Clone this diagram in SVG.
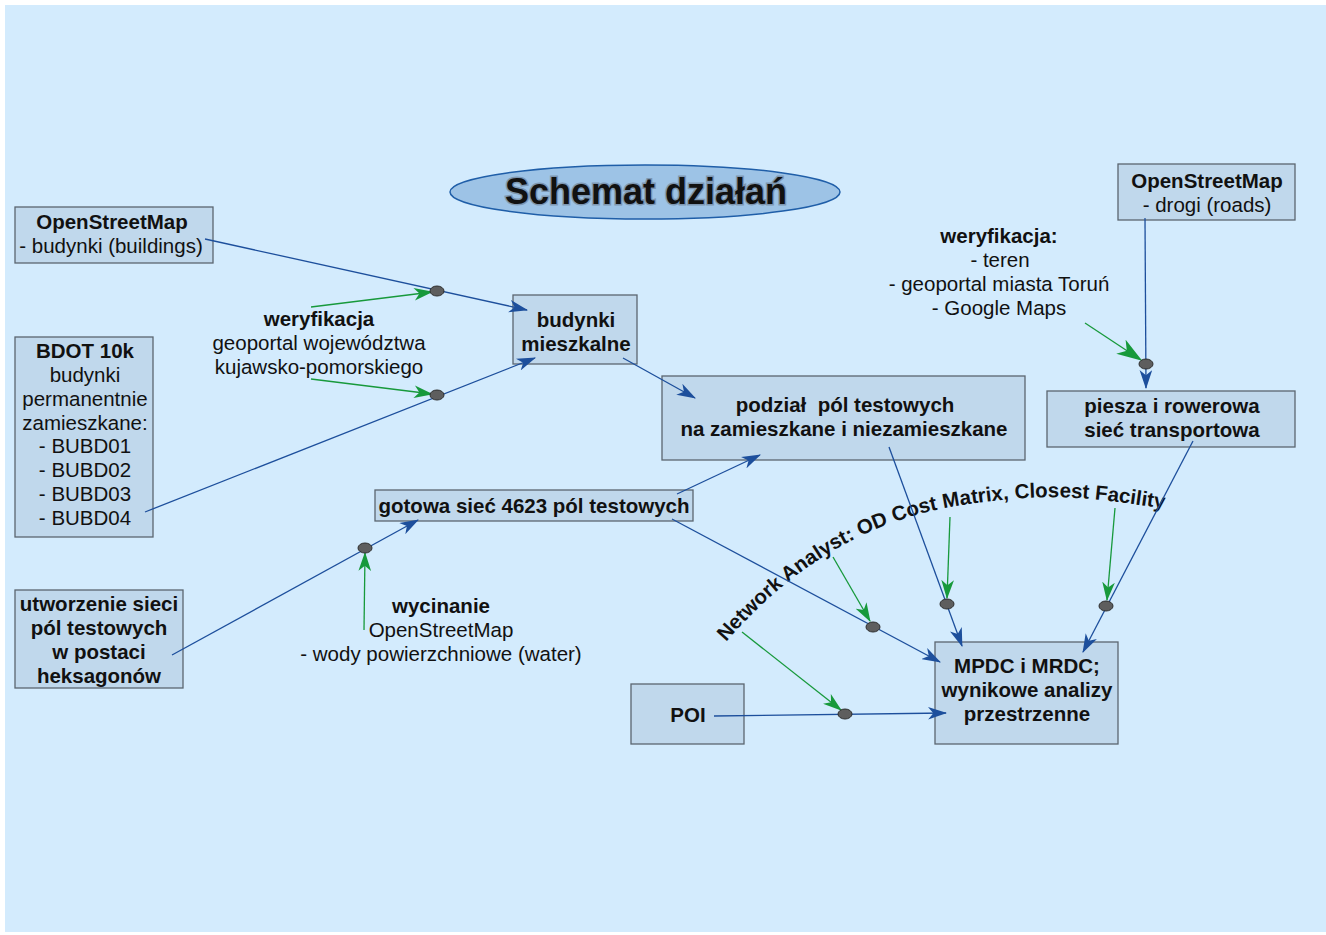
<svg xmlns="http://www.w3.org/2000/svg" width="1326" height="935" viewBox="0 0 1326 935">
<style>
  .node rect { fill: #c0d8ec; stroke: #5b6670; stroke-width: 1.3; }
  text { font-family: "Liberation Sans", Arial, sans-serif; font-size: 20.5px; fill: #111; text-anchor: middle; }
  .b { font-weight: bold; }
  .blue { stroke: #1d4f9c; stroke-width: 1.3; fill: none; }
  .green { stroke: #17993b; stroke-width: 1.3; fill: none; }
  .dot { fill: #5e5e5e; stroke: #2f2f2f; stroke-width: 1; }
</style>
<defs>
  <marker id="ab" viewBox="0 0 18 12" refX="17" refY="6" markerWidth="19" markerHeight="13" orient="auto" markerUnits="userSpaceOnUse">
    <path d="M0,0 L18,6 L0,12 L5,6 z" fill="#1d4f9c"/>
  </marker>
  <marker id="ag" viewBox="0 0 18 12" refX="17" refY="6" markerWidth="19" markerHeight="13" orient="auto" markerUnits="userSpaceOnUse">
    <path d="M0,0 L18,6 L0,12 L5,6 z" fill="#17993b"/>
  </marker>
  <marker id="agb" viewBox="0 0 18 12" refX="17" refY="6" markerWidth="26" markerHeight="17" orient="auto" markerUnits="userSpaceOnUse">
    <path d="M0,0 L18,6 L0,12 L5,6 z" fill="#17993b"/>
  </marker>
</defs>

<rect x="0" y="0" width="1326" height="935" fill="#ffffff"/>
<rect x="5" y="5" width="1321" height="927" fill="#d3ebfd"/>

<g id="title">
  <ellipse cx="645" cy="192" rx="195" ry="27" fill="#9dc3e6" stroke="#1f5ea8" stroke-width="1.5"/>
  <text x="646" y="204" class="b" style="font-size:36px; stroke:#7d97b2; stroke-width:3; paint-order:stroke;">Schemat działań</text>
</g>

<g id="osm-buildings" class="node">
  <rect x="15" y="207" width="198" height="56"/>
  <text x="112" y="229" class="b">OpenStreetMap</text>
  <text x="111" y="253">- budynki (buildings)</text>
</g>

<g id="bdot" class="node">
  <rect x="15" y="337" width="138" height="200"/>
  <text x="85" y="358" class="b">BDOT 10k</text>
  <text x="85" y="382">budynki</text>
  <text x="85" y="406">permanentnie</text>
  <text x="85" y="430">zamieszkane:</text>
  <text x="85" y="453">- BUBD01</text>
  <text x="85" y="477">- BUBD02</text>
  <text x="85" y="501">- BUBD03</text>
  <text x="85" y="525">- BUBD04</text>
</g>

<g id="utworzenie" class="node">
  <rect x="15" y="590" width="168" height="98"/>
  <text x="99" y="611" class="b">utworzenie sieci</text>
  <text x="99" y="635" class="b">pól testowych</text>
  <text x="99" y="659" class="b">w postaci</text>
  <text x="99" y="683" class="b">heksagonów</text>
</g>

<g id="budynki-mieszkalne" class="node">
  <rect x="513" y="295" width="124" height="69"/>
  <text x="576" y="327" class="b">budynki</text>
  <text x="576" y="351" class="b">mieszkalne</text>
</g>

<g id="podzial" class="node">
  <rect x="662" y="376" width="363" height="84"/>
  <text x="845" y="412" class="b" style="white-space:pre">podział  pól testowych</text>
  <text x="844" y="436" class="b">na zamieszkane i niezamieszkane</text>
</g>

<g id="gotowa" class="node">
  <rect x="375" y="490" width="318" height="31"/>
  <text x="534" y="513" class="b">gotowa sieć 4623 pól testowych</text>
</g>

<g id="osm-roads" class="node">
  <rect x="1118" y="164" width="177" height="56"/>
  <text x="1207" y="188" class="b">OpenStreetMap</text>
  <text x="1207" y="212">- drogi (roads)</text>
</g>

<g id="piesza" class="node">
  <rect x="1047" y="391" width="248" height="56"/>
  <text x="1172" y="413" class="b">piesza i rowerowa</text>
  <text x="1172" y="437" class="b">sieć transportowa</text>
</g>

<g id="mpdc" class="node">
  <rect x="935" y="642" width="183" height="102"/>
  <text x="1027" y="673" class="b">MPDC i MRDC;</text>
  <text x="1027" y="697" class="b">wynikowe analizy</text>
  <text x="1027" y="721" class="b">przestrzenne</text>
</g>

<g id="poi" class="node">
  <rect x="631" y="684" width="113" height="60"/>
  <text x="688" y="722" class="b">POI</text>
</g>

<g id="label-weryfikacja-1">
  <text x="319" y="326" class="b">weryfikacja</text>
  <text x="319" y="350">geoportal województwa</text>
  <text x="319" y="374">kujawsko-pomorskiego</text>
</g>

<g id="label-weryfikacja-2">
  <text x="999" y="243" class="b">weryfikacja:</text>
  <text x="1000" y="267">- teren</text>
  <text x="999" y="291">- geoportal miasta Toruń</text>
  <text x="999" y="315">- Google Maps</text>
</g>

<g id="label-wycinanie">
  <text x="441" y="613" class="b">wycinanie</text>
  <text x="441" y="637">OpenStreetMap</text>
  <text x="441" y="661">- wody powierzchniowe (water)</text>
</g>

<g id="label-network">
  <path id="arc" d="M726 642 C786 573, 862 520, 962 505 S1100 500, 1168 509" fill="none"/>
  <text class="b" style="text-anchor:start; font-size:20.5px;"><textPath href="#arc">Network Analyst: OD Cost Matrix, Closest Facility</textPath></text>
</g>

<g id="connectors">
  <path class="blue" d="M205 239 L527 310" marker-end="url(#ab)"/>
  <path class="blue" d="M145 512 L535 358" marker-end="url(#ab)"/>
  <path class="green" d="M311 307 L432 292" marker-end="url(#ag)"/>
  <path class="green" d="M311 379 L432 394" marker-end="url(#ag)"/>
  <path class="blue" d="M623 358 L695 398" marker-end="url(#ab)"/>
  <path class="blue" d="M172 655 L418 520" marker-end="url(#ab)"/>
  <path class="green" d="M364 630 L365 553" marker-end="url(#ag)"/>
  <path class="blue" d="M677 494 L760 455" marker-end="url(#ab)"/>
  <path class="blue" d="M672 519 L940 662" marker-end="url(#ab)"/>
  <path class="blue" d="M889 447 L962 646" marker-end="url(#ab)"/>
  <path class="blue" d="M1193 441 L1083 652" marker-end="url(#ab)"/>
  <path class="blue" d="M714 716 L946 713" marker-end="url(#ab)"/>
  <path class="blue" d="M1145 218 L1146 388" marker-end="url(#ab)"/>
  <path class="green" d="M1085 323 L1141 360" marker-end="url(#agb)"/>
  <path class="green" d="M833 557 L870 621" marker-end="url(#ag)"/>
  <path class="green" d="M950 517 L947 598" marker-end="url(#ag)"/>
  <path class="green" d="M1115 508 L1107 600" marker-end="url(#ag)"/>
  <path class="green" d="M742 632 L841 710" marker-end="url(#ag)"/>
  <ellipse class="dot" cx="437" cy="291" rx="7" ry="5"/>
  <ellipse class="dot" cx="437" cy="395" rx="7" ry="5"/>
  <ellipse class="dot" cx="365" cy="548" rx="7" ry="5"/>
  <ellipse class="dot" cx="1146" cy="364" rx="7" ry="5"/>
  <ellipse class="dot" cx="873" cy="627" rx="7" ry="5"/>
  <ellipse class="dot" cx="947" cy="604" rx="7" ry="5"/>
  <ellipse class="dot" cx="1106" cy="606" rx="7" ry="5"/>
  <ellipse class="dot" cx="845" cy="714" rx="7" ry="5"/>
</g>
</svg>
